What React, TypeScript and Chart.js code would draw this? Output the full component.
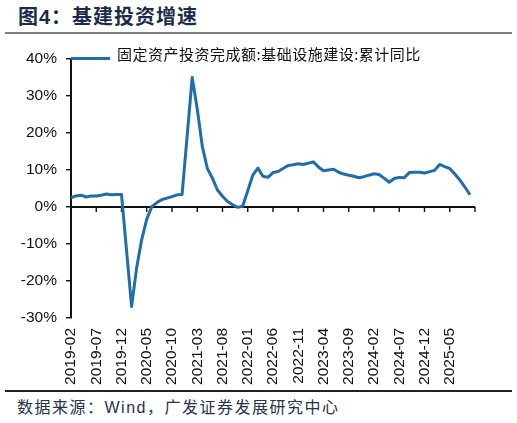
import { useEffect, useRef } from "react"
import { Chart, registerables } from "chart.js"

Chart.register(...registerables)

// monthly axis, 2019-02 .. 2025-10 (last slot only carries the end tick)
const startYear = 2019
const startMonth = 2
const monthCount = 81

const categories: string[] = []
for (let i = 0; i < monthCount; i++) {
  const m = startMonth - 1 + i
  const yy = startYear + Math.floor(m / 12)
  const mm = (m % 12) + 1
  categories.push(`${yy}-${mm < 10 ? "0" + mm : mm}`)
}

// 固定资产投资完成额:基础设施建设:累计同比 (%), January not published
const v2019 = [2.5, 3.0, 3.2, 2.7, 3.0, 3.0, 3.2, 3.5, 3.3, 3.4, 3.4]
const v2020 = [null, -26.9, -16.4, -8.8, -3.3, 0.1, 1.2, 2.0, 2.4, 2.8, 3.3, 3.4]
const v2021 = [null, 35.0, 26.5, 16.4, 10.4, 7.8, 4.6, 2.9, 1.5, 0.6, -0.1, 0.2]
const v2022 = [null, 8.6, 10.5, 8.3, 8.0, 9.3, 9.6, 10.4, 11.2, 11.4, 11.7, 11.5]
const v2023 = [null, 12.2, 10.8, 9.8, 10.0, 10.2, 9.4, 8.9, 8.6, 8.3, 7.9, 8.2]
const v2024 = [null, 9.0, 8.8, 7.8, 6.7, 7.7, 8.0, 7.9, 9.3, 9.4, 9.4, 9.2]
const v2025 = [null, 9.9, 11.5, 10.9, 10.4, 8.9, 7.3, 5.4, 3.3]

const infraYoY = [...v2019, ...v2020, ...v2021, ...v2022, ...v2023, ...v2024, ...v2025]

const seriesName = "固定资产投资完成额:基础设施建设:累计同比"
const yMin = -30
const yMax = 40
const yStep = 10
const labelEvery = 5

const lineColor = "#1f6ea9"
const latinFont = "'Liberation Sans', Arial, sans-serif"
const cjkFont = "'Noto Sans CJK SC', sans-serif"

// zero line + downward tick marks, drawn where the value axis crosses 0
const zeroAxis = {
  id: "zeroAxis",
  beforeDatasetsDraw(chart: Chart) {
    const { ctx, chartArea, scales } = chart
    const y0 = scales.y.getPixelForValue(0)
    ctx.save()
    ctx.strokeStyle = "#111"
    ctx.lineWidth = 1.8
    ctx.beginPath()
    ctx.moveTo(chartArea.left, y0)
    ctx.lineTo(chartArea.right, y0)
    ctx.stroke()
    ctx.lineWidth = 1.4
    ctx.beginPath()
    for (let i = 0; i < categories.length; i += labelEvery) {
      const px = scales.x.getPixelForValue(i)
      ctx.moveTo(px, y0)
      ctx.lineTo(px, y0 + 5)
    }
    ctx.stroke()
    ctx.restore()
  },
}

function InfraChart() {
  const chartRef = useRef<HTMLCanvasElement>(null)
  const chartInstance = useRef<Chart | null>(null)

  useEffect(() => {
    if (!chartRef.current) return
    const ctx = chartRef.current.getContext("2d")
    if (!ctx) return

    chartInstance.current = new Chart(ctx, {
      type: "line",
      data: {
        labels: categories,
        datasets: [
          {
            label: seriesName,
            data: infraYoY,
            borderColor: lineColor,
            borderWidth: 3,
            pointRadius: 0,
            tension: 0,
            spanGaps: true,
            borderJoinStyle: "round",
          },
        ],
      },
      options: {
        animation: false,
        responsive: true,
        maintainAspectRatio: false,
        layout: { padding: { top: 59, right: 42, left: 0, bottom: 0 } },
        plugins: {
          legend: { display: false },
          tooltip: { enabled: false },
        },
        scales: {
          x: {
            grid: { display: false, drawTicks: false },
            border: { display: false },
            ticks: {
              autoSkip: false,
              maxRotation: 90,
              minRotation: 90,
              padding: 10,
              color: "#111",
              font: { family: latinFont, size: 15.5 },
              callback: (_v, index) =>
                index % labelEvery === 0 && index < infraYoY.length ? categories[index] : "",
            },
            afterFit: (scale) => {
              scale.height = 72
            },
          },
          y: {
            min: yMin,
            max: yMax,
            grid: {
              drawOnChartArea: false,
              drawTicks: true,
              tickLength: 5,
              color: "#111",
              lineWidth: 1.4,
            },
            border: { display: true, color: "#111", width: 2 },
            ticks: {
              stepSize: yStep,
              padding: 9,
              color: "#111",
              font: { family: latinFont, size: 15.5 },
              callback: (value) => `${value}%`,
            },
            afterFit: (scale) => {
              scale.width = 71
            },
          },
        },
      },
      plugins: [zeroAxis],
    })

    return () => {
      if (chartInstance.current) {
        chartInstance.current.destroy()
        chartInstance.current = null
      }
    }
  }, [])

  return (
    <div style={{ position: "absolute", left: 0, top: 0, width: 517, height: 390 }}>
      <canvas ref={chartRef} />
    </div>
  )
}

export default function App() {
  return (
    <div
      style={{
        position: "absolute",
        left: 0,
        top: 0,
        width: 517,
        height: 423,
        background: "#fff",
        overflow: "hidden",
      }}
    >
      <div
        style={{
          position: "absolute",
          left: 18,
          top: 4,
          lineHeight: "26px",
          fontSize: 20,
          fontWeight: 700,
          letterSpacing: 1,
          color: "#1b2b4b",
          fontFamily: `'Liberation Sans', ${cjkFont}`,
          whiteSpace: "nowrap",
        }}
      >
        图4：基建投资增速
      </div>
      <div
        style={{ position: "absolute", left: 5, top: 32, width: 507, height: 2, background: "#7f7f7f" }}
      />

      <InfraChart />

      {/* legend */}
      <div
        style={{ position: "absolute", left: 71, top: 57, width: 39, height: 3, background: lineColor }}
      />
      <div
        style={{
          position: "absolute",
          left: 117,
          top: 44,
          lineHeight: "20px",
          fontSize: 15,
          letterSpacing: 0.5,
          color: "#111",
          fontFamily: cjkFont,
          whiteSpace: "nowrap",
        }}
      >
        {seriesName}
      </div>

      <div
        style={{ position: "absolute", left: 5, top: 390, width: 507, height: 1.5, background: "#222" }}
      />
      <div
        style={{
          position: "absolute",
          left: 17,
          top: 397,
          lineHeight: "22px",
          fontSize: 16,
          letterSpacing: 1.5,
          color: "#26324e",
          fontFamily: `'Liberation Sans', ${cjkFont}`,
          whiteSpace: "nowrap",
        }}
      >
        数据来源：Wind，广发证券发展研究中心
      </div>
    </div>
  )
}
